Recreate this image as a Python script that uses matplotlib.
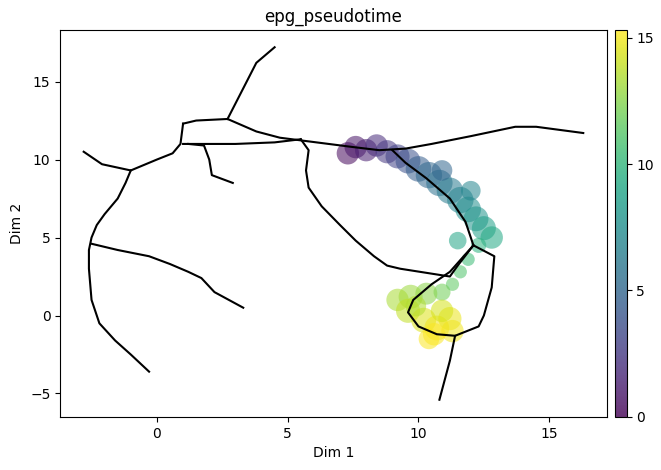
import matplotlib.pyplot as plt
import matplotlib as mpl

# approximate cell cloud: centre points along the trajectory, spread, pseudotime
cx = [7.3, 7.6, 8.0, 8.4, 8.8, 9.2, 9.6, 10.0, 10.4, 10.8, 11.2, 11.6, 11.9, 12.2, 12.5, 12.8, 12.3, 11.9, 11.6, 11.3, 10.9,
      10.3, 9.7, 9.2, 9.6, 10.2, 10.7, 11.2, 10.4, 9.9, 10.9, 11.3, 10.6, 12.0, 10.9, 11.5]
cy = [10.4, 10.8, 10.6, 10.9, 10.5, 10.2, 9.9, 9.4, 9.0, 8.5, 8.0, 7.4, 6.8, 6.2, 5.6, 5.0, 4.5, 3.6, 2.8, 2.0, 1.5,
      1.4, 1.2, 1.0, 0.3, -0.3, -0.8, -0.2, -1.5, 0.6, 0.3, -1.0, -1.2, 8.0, 9.3, 4.8]
ct = [0.3, 0.8, 1.2, 1.8, 2.4, 3.0, 3.8, 4.5, 5.1, 5.7, 6.3, 6.9, 7.5, 8.0, 8.6, 9.2, 9.8, 10.4, 11.0, 11.5, 12.0,
      12.6, 13.0, 13.3, 13.9, 14.5, 15.0, 14.8, 15.2, 13.5, 14.3, 15.0, 15.2, 7.0, 5.0, 9.0]
cs = [260, 260, 260, 260, 280, 300, 320, 340, 360, 360, 360, 360, 340, 320, 300, 260, 120, 90, 90, 90, 150,
      250, 300, 260, 300, 320, 320, 280, 220, 220, 260, 260, 260, 200, 220, 160]

# principal graph edges
edges = [
    [(2.7, 12.6), (3.8, 16.2), (4.5, 17.2)],
    [(1.0, 12.3), (1.5, 12.5), (2.7, 12.6), (3.8, 11.8), (4.7, 11.4), (7.5, 10.8), (8.5, 10.6), (9.5, 10.7),
     (10.5, 11.0), (12.0, 11.5), (13.7, 12.1), (14.5, 12.1), (16.3, 11.7)],
    [(1.0, 11.0), (3.0, 11.0), (4.5, 11.1), (5.5, 11.3)],
    [(-2.8, 10.5), (-2.1, 9.7), (-1.0, 9.3), (0.0, 10.0), (0.6, 10.4), (0.9, 11.0), (1.0, 12.3)],
    [(-1.0, 9.3), (-1.2, 8.5), (-1.5, 7.5), (-2.0, 6.5), (-2.3, 5.8), (-2.5, 5.0), (-2.6, 4.2), (-2.6, 3.0),
     (-2.5, 1.0), (-2.2, -0.5), (-1.6, -1.6), (-1.0, -2.5), (-0.3, -3.6)],
    [(-2.5, 4.6), (-1.5, 4.2), (-0.3, 3.8), (0.5, 3.3), (1.2, 2.8), (1.7, 2.4), (2.2, 1.5), (3.3, 0.5)],
    [(1.2, 11.0), (1.8, 10.9), (2.0, 10.0), (2.1, 9.0), (2.9, 8.5)],
    [(5.5, 11.3), (5.8, 10.6), (5.7, 9.3), (5.8, 8.2), (6.3, 7.0), (7.0, 5.8), (7.6, 4.8), (8.3, 3.8),
     (8.8, 3.2), (9.3, 3.0), (11.2, 2.5), (11.5, 3.2), (12.1, 4.5)],
    [(9.0, 10.6), (9.5, 9.8), (10.3, 8.8), (11.2, 7.5), (11.8, 6.0), (12.1, 4.5)],
    [(12.1, 4.5), (12.9, 3.8), (12.8, 1.8), (12.5, 0.0), (12.3, -0.7), (11.4, -1.3), (11.2, -2.9), (10.8, -5.4)],
    [(12.1, 4.5), (11.2, 2.8), (10.5, 2.0), (9.8, 1.0), (9.6, 0.2), (10.0, -0.7), (10.7, -1.2), (11.4, -1.3)],
]

fig = plt.figure(figsize=(6.61, 4.70), dpi=100)
ax = fig.add_axes([0.091, 0.113, 0.827, 0.823])
cax = fig.add_axes([0.930, 0.113, 0.018, 0.823])
sc = ax.scatter(cx, cy, c=ct, s=cs, cmap='viridis', vmin=0, vmax=15.3, alpha=0.55, edgecolors='none')
for e in edges:
    ax.plot([p[0] for p in e], [p[1] for p in e], color='black', lw=1.5)

ax.set_xlim(-3.7, 17.2)
ax.set_ylim(-6.5, 18.3)
ax.set_xticks([0, 5, 10, 15])
ax.set_yticks([-5, 0, 5, 10, 15])
ax.set_xlabel('Dim 1')
ax.set_ylabel('Dim 2')
ax.set_title('epg_pseudotime')
sm = mpl.cm.ScalarMappable(norm=mpl.colors.Normalize(0, 15.3), cmap='viridis')
cb = fig.colorbar(sm, cax=cax, alpha=0.8)
cb.set_ticks([0, 5, 10, 15])
fig.savefig('out.png')
